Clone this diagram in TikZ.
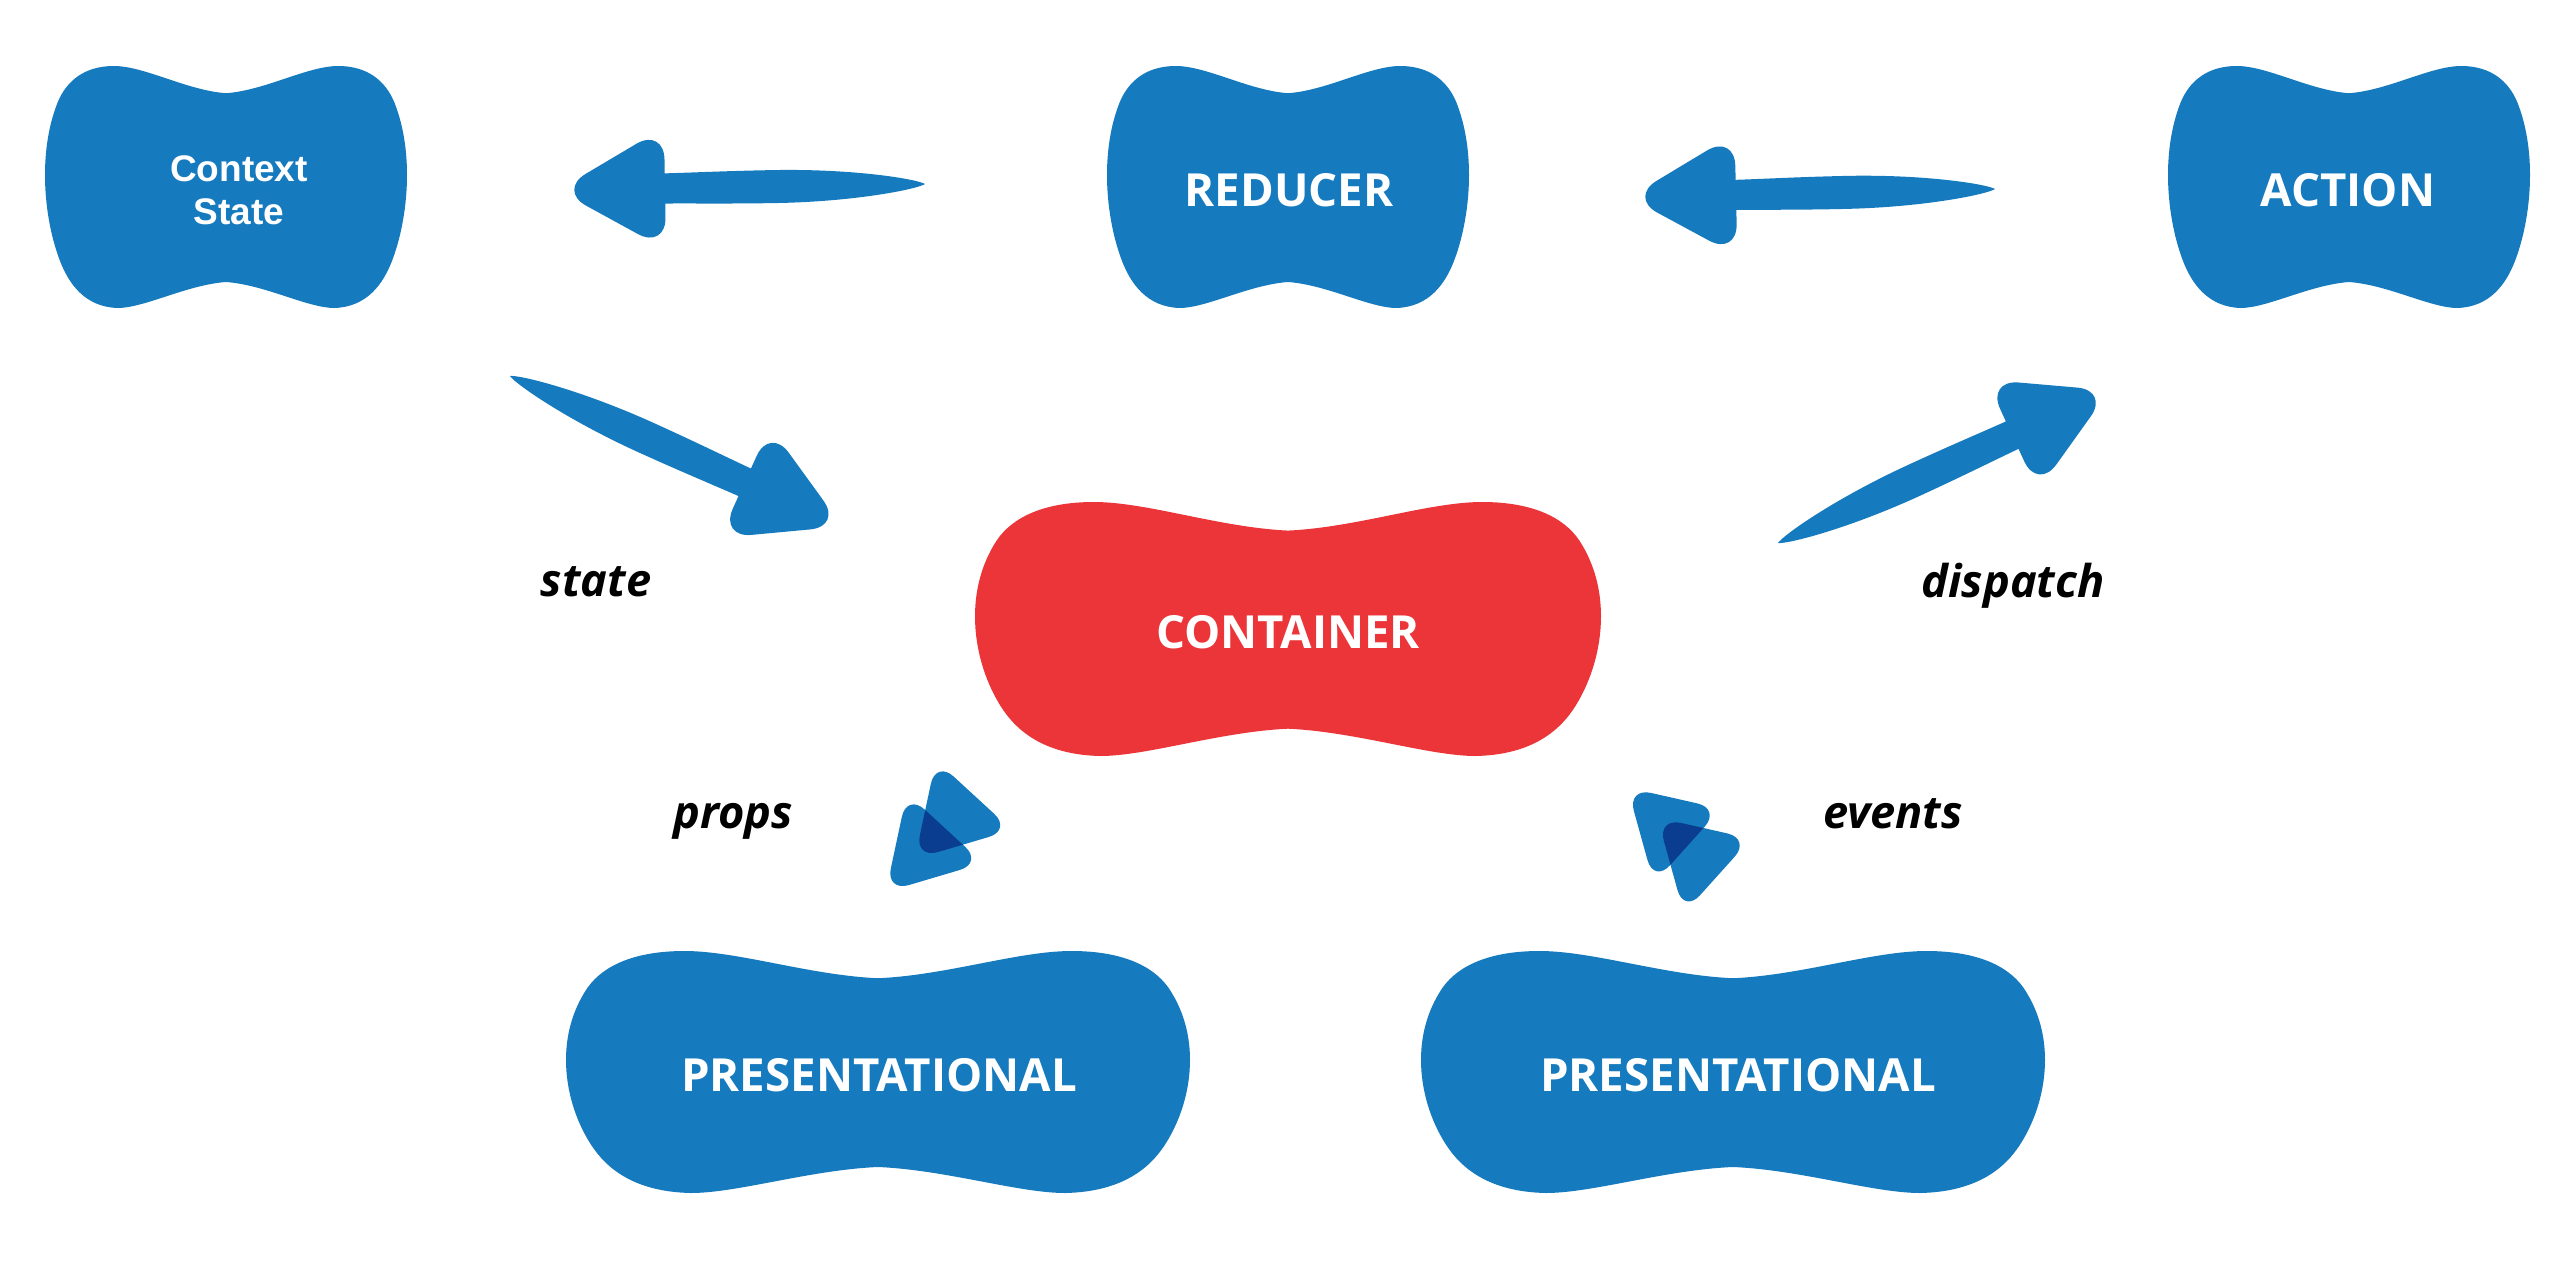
\documentclass[tikz,border=0pt]{standalone}
\usepackage{fontspec}
\newfontfamily\osans{Open Sans}
\newfontfamily\lsans{Liberation Sans}
\definecolor{blobblue}{HTML}{157ABE}
\definecolor{blobred}{HTML}{EC3539}
\definecolor{overlapblue}{HTML}{0A3D8F}

\newdimen\brdx
\newdimen\brdy
% brush-stroke arrow from a named tail coordinate to a named tip coordinate
\newcommand\brusharrow[2]{%
  \pgfmathanglebetweenpoints{\pgfpointanchor{#1}{center}}{\pgfpointanchor{#2}{center}}%
  \let\brang\pgfmathresult
  \pgfextractx{\brdx}{\pgfpointdiff{\pgfpointanchor{#1}{center}}{\pgfpointanchor{#2}{center}}}%
  \pgfextracty{\brdy}{\pgfpointdiff{\pgfpointanchor{#1}{center}}{\pgfpointanchor{#2}{center}}}%
  \pgfmathsetmacro\brlen{4*veclen(\the\brdx,\the\brdy)}%
  \begin{scope}[shift={(#1)}, rotate=\brang, x=0.25pt, y=0.25pt]
    \fill[blobblue] (0,0) .. controls (8,5) and (70,16.5) .. (150,16.5)
      .. controls (205,16.5) and (240,15) .. (\brlen-75,15) -- (\brlen-75,-15)
      .. controls (240,-15) and (205,-16.5) .. (150,-16.5)
      .. controls (70,-16.5) and (8,-5) .. (0,0) -- cycle;
    \fill[blobblue, rounded corners=8pt] (\brlen-91,61) -- (\brlen+16,0) -- (\brlen-91,-61) -- cycle;
  \end{scope}}

% peanut-shaped blob: centre coordinate, half width, half height, colour
\newcommand\blobshape[4]{%
  \fill[#4, shift={(#1)}, xscale=#2, yscale=-#3]
    (-1,0.1) .. controls (-1,0.35) and (-0.97,0.55) .. (-0.93,0.70)
    .. controls (-0.88,0.88) and (-0.78,1) .. (-0.62,1)
    .. controls (-0.45,1) and (-0.22,0.80) .. (0,0.775)
    .. controls (0.22,0.80) and (0.45,1) .. (0.62,1)
    .. controls (0.78,1) and (0.88,0.88) .. (0.93,0.70)
    .. controls (0.97,0.55) and (1,0.35) .. (1,0.1)
    .. controls (1,-0.15) and (0.97,-0.4) .. (0.92,-0.6)
    .. controls (0.87,-0.8) and (0.78,-0.99) .. (0.6,-1)
    .. controls (0.45,-1) and (0.22,-0.81) .. (0,-0.785)
    .. controls (-0.22,-0.81) and (-0.45,-1) .. (-0.6,-1)
    .. controls (-0.78,-0.99) and (-0.87,-0.8) .. (-0.92,-0.6)
    .. controls (-0.97,-0.4) and (-1,-0.15) .. (-1,0.1) -- cycle;}

\tikzset{
  blobtext/.style={anchor=base, text=white, inner sep=0pt,
    font=\osans\bfseries\fontsize{11.4}{13.5}\selectfont},
  flowlabel/.style={anchor=base, text=black, inner sep=0pt,
    font=\osans\bfseries\itshape\fontsize{11.3}{13.5}\selectfont},
  tri/.style={rounded corners=6pt},
}

\begin{document}
\begin{tikzpicture}[x=0.25pt, y=-0.25pt]
\useasboundingbox (0,0) rectangle (2572,1264);

% blob centres
\coordinate (ctxc) at (226,187);
\coordinate (redc) at (1288,187);
\coordinate (actc) at (2349,187);
\coordinate (conc) at (1288,629);
\coordinate (pres1c) at (878,1072);
\coordinate (pres2c) at (1733,1072);

\blobshape{ctxc}{181}{121}{blobblue}
\blobshape{redc}{181}{121}{blobblue}
\blobshape{actc}{181}{121}{blobblue}
\blobshape{conc}{313}{127}{blobred}
\blobshape{pres1c}{312}{121}{blobblue}
\blobshape{pres2c}{312}{121}{blobblue}

% texts
\node[align=center, text=white, inner sep=0pt,
      font=\lsans\bfseries\fontsize{9.25}{10.75}\selectfont] (ctx) at (239,190) {Context\\State};
\node[blobtext] (reducer) at (1289,206) {REDUCER};
\node[blobtext] (action) at (2348,206) {ACTION};
\node[blobtext] (container) at (1288,648) {CONTAINER};
\node[blobtext] (pres1) at (879,1091) {PRESENTATIONAL};
\node[blobtext] (pres2) at (1738,1091) {PRESENTATIONAL};

\node[flowlabel] (lstate) at (596,596) {state};
\node[flowlabel] (ldispatch) at (2013,597) {dispatch};
\node[flowlabel] (lprops) at (733,828) {props};
\node[flowlabel] (levents) at (1893,828) {events};

% brush arrows: tail and tip coordinates
\coordinate (a1t) at (925,184);  \coordinate (a1h) at (574,190);
\coordinate (a2t) at (1995,189); \coordinate (a2h) at (1645,197);
\coordinate (a3t) at (510,376);  \coordinate (a3h) at (828,520);
\coordinate (a4t) at (1778,543); \coordinate (a4h) at (2095,397);
\brusharrow{a1t}{a1h}
\brusharrow{a2t}{a2h}
\brusharrow{a3t}{a3h}
\brusharrow{a4t}{a4h}

% props double triangle
\def\propsA{(935.9,760.2) -- (1011.9,830.1) -- (914.8,858.9) -- cycle}
\def\propsB{(906.9,793.2) -- (982.9,863.1) -- (885.8,891.9) -- cycle}
\fill[blobblue, tri] \propsA;
\fill[blobblue, tri] \propsB;
\begin{scope}
  \clip[tri] \propsA;
  \fill[overlapblue, tri] \propsB;
\end{scope}

% events double triangle
\def\eventsA{(1627.4,787.6) -- (1720.8,808.7) -- (1653.9,883.2) -- cycle}
\def\eventsB{(1657.4,817.6) -- (1750.8,838.7) -- (1683.9,913.2) -- cycle}
\fill[blobblue, tri] \eventsA;
\fill[blobblue, tri] \eventsB;
\begin{scope}
  \clip[tri] \eventsA;
  \fill[overlapblue, tri] \eventsB;
\end{scope}
\end{tikzpicture}
\end{document}
